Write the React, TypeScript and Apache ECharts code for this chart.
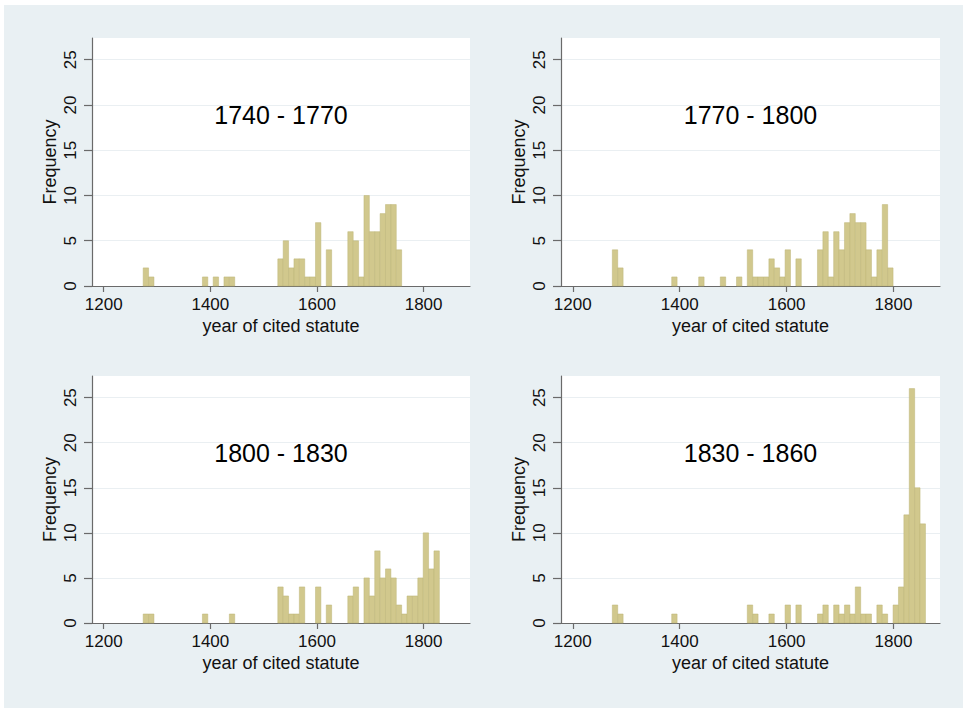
import React, { useEffect, useRef } from "react";
import * as echarts from "echarts";

// ---- data ----
const binStart = 1274;
const binWidth = 10.1;
const xTicks = [1200, 1400, 1600, 1800];
const yTicks = [0, 5, 10, 15, 20, 25];
const panelTitles = ["1740 - 1770", "1770 - 1800", "1800 - 1830", "1830 - 1860"];
const xAxisTitle = "year of cited statute";
const yAxisTitle = "Frequency";

const counts1740_1770 = [
  2, 1, 0, 0, 0, 0, 0, 0, 0, 0,
  0, 1, 0, 1, 0, 1, 1, 0, 0, 0,
  0, 0, 0, 0, 0, 3, 5, 2, 3, 3,
  1, 1, 7, 0, 4, 0, 0, 0, 6, 5,
  1, 10, 6, 6, 8, 9, 9, 4,
];
const counts1770_1800 = [
  4, 2, 0, 0, 0, 0, 0, 0, 0, 0,
  0, 1, 0, 0, 0, 0, 1, 0, 0, 0,
  1, 0, 0, 1, 0, 4, 1, 1, 1, 3,
  2, 1, 4, 0, 3, 0, 0, 0, 4, 6,
  1, 6, 4, 7, 8, 7, 7, 4, 1, 4, 9, 2,
];
const counts1800_1830 = [
  1, 1, 0, 0, 0, 0, 0, 0, 0, 0,
  0, 1, 0, 0, 0, 0, 1, 0, 0, 0,
  0, 0, 0, 0, 0, 4, 3, 1, 1, 4,
  0, 0, 4, 0, 2, 0, 0, 0, 3, 4,
  0, 5, 3, 8, 5, 6, 5, 2, 1, 3,
  3, 5, 10, 6, 8,
];
const counts1830_1860 = [
  2, 1, 0, 0, 0, 0, 0, 0, 0, 0,
  0, 1, 0, 0, 0, 0, 0, 0, 0, 0,
  0, 0, 0, 0, 0, 2, 1, 0, 0, 1,
  0, 0, 2, 0, 2, 0, 0, 0, 1, 2,
  0, 2, 1, 2, 1, 4, 1, 1, 0, 2,
  1, 0, 2, 4, 12, 26, 15, 11,
];
const panelCounts = [counts1740_1770, counts1770_1800, counts1800_1830, counts1830_1860];

// ---- styles ----
const FONT = '"Liberation Sans", Arial, Helvetica, sans-serif';
const AXIS = "#6a6a6a";
const GRIDLINE = "#eaeff2";
const BAR = "#d1c88d";
const BAR_EDGE = "#bdb477";
const BG = "#e9f0f3";

const grids = [
  { left: 92, top: 38, width: 378, height: 248 },
  { left: 561, top: 38, width: 379, height: 248 },
  { left: 92, top: 376, width: 378, height: 247 },
  { left: 561, top: 376, width: 379, height: 247 },
];

export default function App() {
  const ref = useRef<HTMLDivElement>(null);

  useEffect(() => {
    if (!ref.current) return;
    const chart = echarts.init(ref.current, null, { renderer: "svg" });

    const xAxes = grids.map((_, i) => ({
      type: "value",
      gridIndex: i,
      min: 1178,
      max: 1887,
      axisLine: { show: true, onZero: false, lineStyle: { color: AXIS, width: 1.2 } },
      axisTick: { show: true, length: 6, customValues: xTicks, lineStyle: { color: AXIS, width: 1.2 } },
      axisLabel: {
        customValues: xTicks,
        formatter: (v: number) => String(v),
        color: "#111",
        fontSize: 17,
        fontFamily: FONT,
        margin: 10,
      },
      splitLine: { show: false },
      name: xAxisTitle,
      nameLocation: "middle",
      nameGap: 31,
      nameTextStyle: { fontSize: 18, color: "#111", fontFamily: FONT },
    }));

    const yAxes = grids.map((_, i) => ({
      type: "value",
      gridIndex: i,
      min: 0,
      max: 27.4,
      interval: 5,
      axisLine: { show: true, lineStyle: { color: AXIS, width: 1.2 } },
      axisTick: { show: true, length: 8, customValues: yTicks, lineStyle: { color: AXIS, width: 1.2 } },
      axisLabel: {
        customValues: yTicks,
        formatter: (v: number) => String(v),
        rotate: 90,
        color: "#111",
        fontSize: 17,
        fontFamily: FONT,
        margin: 13,
      },
      splitLine: { show: true, lineStyle: { color: GRIDLINE, width: 1 } },
      name: yAxisTitle,
      nameLocation: "middle",
      nameGap: 33,
      nameTextStyle: { fontSize: 18, color: "#111", fontFamily: FONT },
    }));

    const series = panelCounts.map((counts, i) => ({
      type: "custom",
      coordinateSystem: "cartesian2d",
      xAxisIndex: i,
      yAxisIndex: i,
      encode: { x: [0, 1], y: 2 },
      data: counts
        .map((c, k) => [binStart + k * binWidth, binStart + (k + 1) * binWidth, c])
        .filter((d) => d[2] > 0),
      renderItem: (_params: any, api: any) => {
        const p0 = api.coord([api.value(0), api.value(2)]);
        const p1 = api.coord([api.value(1), 0]);
        return {
          type: "rect",
          shape: { x: p0[0], y: p0[1], width: p1[0] - p0[0], height: p1[1] - p0[1] },
          style: { fill: BAR, stroke: BAR_EDGE, lineWidth: 0.5 },
        };
      },
    }));

    const titles = panelTitles.map((t, i) => ({
      type: "text",
      z: 100,
      x: grids[i].left + grids[i].width / 2,
      y: grids[i].top + 77,
      style: {
        text: t,
        fill: "#000",
        font: `25px ${FONT}`,
        align: "center",
        verticalAlign: "middle",
        textAlign: "center",
        textVerticalAlign: "middle",
      },
    }));

    chart.setOption({
      animation: false,
      backgroundColor: "transparent",
      grid: grids.map((g) => ({ ...g, show: true, backgroundColor: "#ffffff", borderWidth: 0 })),
      xAxis: xAxes,
      yAxis: yAxes,
      series,
      graphic: { elements: titles },
    } as any);

    return () => chart.dispose();
  }, []);

  return (
    <div style={{ position: "absolute", left: 0, top: 0, width: 963, height: 708, background: "#ffffff" }}>
      <div style={{ position: "absolute", left: 4, top: 5, right: 0, bottom: 0, background: BG }} />
      <div ref={ref} style={{ position: "absolute", left: 0, top: 0, width: 963, height: 708 }} />
    </div>
  );
}
